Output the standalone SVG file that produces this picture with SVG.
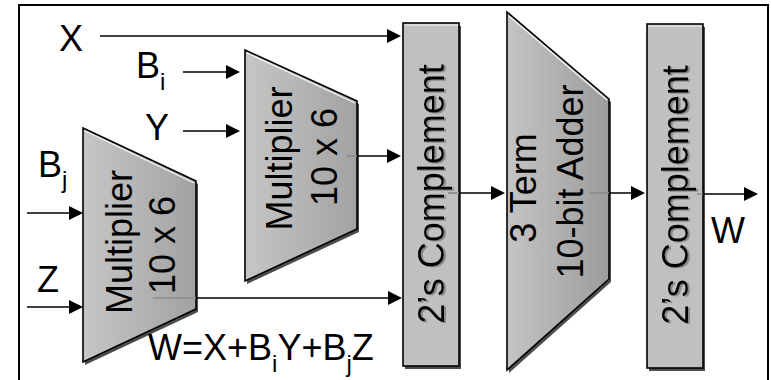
<svg xmlns="http://www.w3.org/2000/svg" width="771" height="380" viewBox="0 0 771 380">
<defs>
  <linearGradient id="gMult" x1="0" y1="0" x2="1" y2="0">
    <stop offset="0" stop-color="#c6c6c6"/>
    <stop offset="1" stop-color="#a2a2a2"/>
  </linearGradient>
  <linearGradient id="gAdd" x1="0" y1="0" x2="1" y2="0">
    <stop offset="0" stop-color="#c4c4c4"/>
    <stop offset="1" stop-color="#9c9c9c"/>
  </linearGradient>
  <marker id="arr" markerUnits="userSpaceOnUse" markerWidth="14" markerHeight="14" viewBox="0 0 14 14" refX="12" refY="7" orient="auto">
    <path d="M0,0 L14,7 L0,14 Z" fill="#000"/>
  </marker>
  <filter id="tsh" x="-10%" y="-10%" width="130%" height="130%">
    <feDropShadow dx="2" dy="1" stdDeviation="0.4" flood-color="#8a8a8a" flood-opacity="1"/>
  </filter>
</defs>
<style>
  .t { font-family: "Liberation Sans", Arial, sans-serif; font-size: 36px; fill: #000; }
  .tm { font-family: "Liberation Sans", Arial, sans-serif; font-size: 36px; fill: #000; text-anchor: middle; }
  .sub { font-size: 24px; }
  .shape { stroke: #000; stroke-width: 1.6; stroke-linejoin: miter; }
  .shadow { fill: #4d4d4d; }
  .hl { stroke: #f2f2f2; stroke-width: 1.2; fill: none; }
  .wire { stroke: #000; stroke-width: 1.7; fill: none; }
  .wire-in { stroke: #8c8c8c; stroke-width: 1.7; fill: none; }
</style>

<rect id="frame" x="19" y="5" width="749" height="400" fill="#fff" stroke="#000" stroke-width="2"/>

<g id="mult1">
  <polygon class="shadow" points="247,53 359,104 359,232 247,284"/>
  <polygon class="shape" fill="url(#gMult)" points="245,50 357,101 357,229 245,281"/>
  <line class="hl" x1="247" y1="53" x2="355" y2="103"/>
  <text class="tm" transform="translate(292,158.5) rotate(-90)">Multiplier</text>
  <text class="tm" transform="translate(337,157) rotate(-90)">10 x 6</text>
</g>

<g id="mult2">
  <polygon class="shadow" points="85,131 198,184 198,312 85,365"/>
  <polygon class="shape" fill="url(#gMult)" points="83,128 196,181 196,309 83,362"/>
  <line class="hl" x1="85" y1="131" x2="194" y2="183"/>
  <text class="tm" transform="translate(132,242) rotate(-90)">Multiplier</text>
  <text class="tm" transform="translate(175,245) rotate(-90)">10 x 6</text>
</g>

<g id="comp1">
  <rect class="shadow" x="405" y="26" width="56" height="343"/>
  <rect class="shape" fill="#c0c0c0" x="403" y="23" width="56" height="343"/>
  <line class="hl" x1="404" y1="25" x2="458" y2="25"/>
  <g filter="url(#tsh)">
    <text class="tm" transform="translate(444,194) rotate(-90)">2’s Complement</text>
  </g>
</g>

<g id="adder">
  <polygon class="shadow" points="509,15 611,102 611,282 509,373"/>
  <polygon class="shape" fill="url(#gAdd)" points="507,12 609,99 609,279 507,370"/>
  <line class="hl" x1="509" y1="16" x2="607" y2="100"/>
  <text class="tm" transform="translate(536,188) rotate(-90)">3 Term</text>
  <text class="tm" transform="translate(583,181.5) rotate(-90)">10-bit Adder</text>
</g>

<g id="comp2">
  <rect class="shadow" x="649" y="27" width="56" height="344"/>
  <rect class="shape" fill="#c0c0c0" x="647" y="24" width="56" height="344"/>
  <line class="hl" x1="648" y1="26" x2="702" y2="26"/>
  <g filter="url(#tsh)">
    <text class="tm" transform="translate(688,195) rotate(-90)">2’s Complement</text>
  </g>
</g>

<g id="connectors">
  <line class="wire" x1="100" y1="36" x2="399" y2="36" marker-end="url(#arr)"/>
  <line class="wire" x1="183" y1="72" x2="238" y2="72" marker-end="url(#arr)"/>
  <line class="wire" x1="183" y1="131" x2="238" y2="131" marker-end="url(#arr)"/>
  <line class="wire-in" x1="347" y1="156" x2="357" y2="156"/>
  <line class="wire" x1="357" y1="156" x2="399" y2="156" marker-end="url(#arr)"/>
  <line class="wire" x1="27" y1="213" x2="81" y2="213" marker-end="url(#arr)"/>
  <line class="wire" x1="27" y1="307" x2="81" y2="307" marker-end="url(#arr)"/>
  <line class="wire-in" x1="153" y1="298" x2="196" y2="298"/>
  <line class="wire" x1="196" y1="298" x2="400" y2="298" marker-end="url(#arr)"/>
  <line class="wire-in" x1="448" y1="193" x2="459" y2="193"/>
  <line class="wire" x1="459" y1="193" x2="503" y2="193" marker-end="url(#arr)"/>
  <line class="wire-in" x1="590" y1="193" x2="609" y2="193"/>
  <line class="wire" x1="609" y1="193" x2="643" y2="193" marker-end="url(#arr)"/>
  <line class="wire-in" x1="697" y1="194" x2="703" y2="194"/>
  <line class="wire" x1="703" y1="194" x2="756" y2="194" marker-end="url(#arr)"/>
</g>

<g id="labels">
  <text class="t" x="59" y="51">X</text>
  <text class="t" x="136" y="78">B<tspan class="sub" dy="12">i</tspan></text>
  <text class="t" x="145" y="140">Y</text>
  <text class="t" x="38" y="177">B<tspan class="sub" dy="11">j</tspan></text>
  <text class="t" x="37" y="292">Z</text>
  <text class="t" x="711" y="243">W</text>
  <text class="t" x="148" y="360">W=X+B<tspan class="sub" dy="12">i</tspan><tspan dy="-12">Y+B</tspan><tspan class="sub" dy="12">j</tspan><tspan dy="-12">Z</tspan></text>
</g>
</svg>
